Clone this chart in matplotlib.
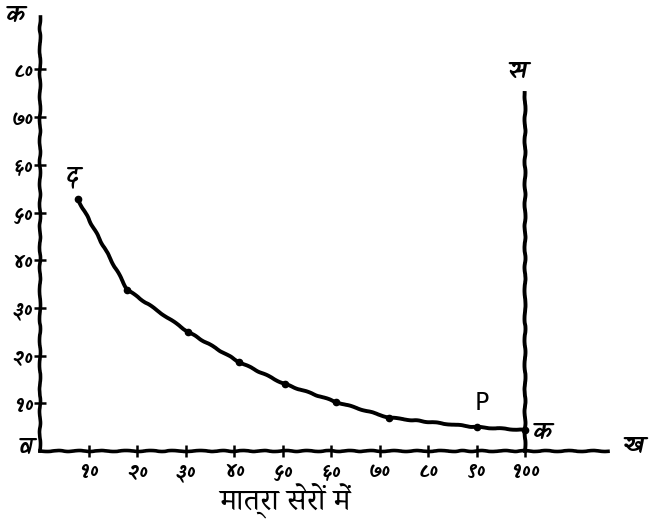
import matplotlib
matplotlib.use("Agg")
import matplotlib.pyplot as plt

# data
qty = [7.8, 18, 30.5, 41, 50.5, 61, 72, 90, 100]
price = [52.8, 33.8, 25, 18.7, 14, 10.3, 7, 5, 4.4]
supply_x = [100, 100]
supply_y = [0, 75]

x_ticks = [10, 20, 30, 40, 50, 60, 70, 80, 90, 100]
x_labels = ['१०', '२०', '३०', '४०', '५०', '६०', '७०', '८०', '९०', '१००']
y_ticks = [10, 20, 30, 40, 50, 60, 70, 80]
y_labels = ['१०', '२०', '३०', '४०', '५०', '६०', '७०', '८०']

hand = ['Kalam', 'Amita', 'Noto Sans Devanagari', 'FreeSans', 'DejaVu Sans']
printed = ['Noto Serif Devanagari', 'FreeSerif', 'DejaVu Serif']

fig = plt.figure(figsize=(6.49, 5.26), dpi=100)
ax = fig.add_axes([40 / 649, 75 / 526, 567.5 / 649, 434 / 526])
ax.set_xlim(0, 117)
ax.set_ylim(0, 91)

for side in ['top', 'right']:
    ax.spines[side].set_visible(False)
for side in ['left', 'bottom']:
    ax.spines[side].set_linewidth(2.6)
    ax.spines[side].set_sketch_params(0.5, 25, 2)

ax.set_xticks(x_ticks)
ax.set_xticklabels(x_labels, family=hand, fontsize=15, fontweight='bold')
ax.set_yticks(y_ticks)
ax.set_yticklabels(y_labels, family=hand, fontsize=15, fontweight='bold')
ax.tick_params(direction='inout', length=8, width=1.8, pad=3)
ax.tick_params(axis='y', pad=1)

line, = ax.plot(qty, price, color='black', lw=2.8, marker='o', ms=4.5,
                solid_capstyle='round', clip_on=False)
line.set_sketch_params(0.4, 25, 2)
vline, = ax.plot(supply_x, supply_y, color='black', lw=2.8, clip_on=False)
vline.set_sketch_params(0.5, 25, 2)

# letters on the drawing
bold = dict(family=hand, fontsize=17, fontweight='bold')
ax.text(6.8, 55, 'द', ha='center', va='bottom', **bold)
ax.text(98.5, 77, 'स', ha='center', va='bottom', **bold)
ax.text(91, 7.5, 'P', ha='center', va='bottom', family=['DejaVu Sans'], fontsize=17)
ax.text(101.5, 4, 'क', ha='left', va='center', **bold)
fig.text(15 / 649, 1 - 15 / 526, 'क', ha='center', va='center', **bold)
fig.text(26 / 649, 1 - 447 / 526, 'व', ha='center', va='center', **bold)
fig.text(633 / 649, 1 - 446 / 526, 'ख', ha='center', va='center', **bold)

fig.text(285 / 649, 1 - 500 / 526, 'मात्रा सेरों में', family=printed,
         fontsize=22, ha='center', va='center')

fig.savefig('out.png', dpi=100)
